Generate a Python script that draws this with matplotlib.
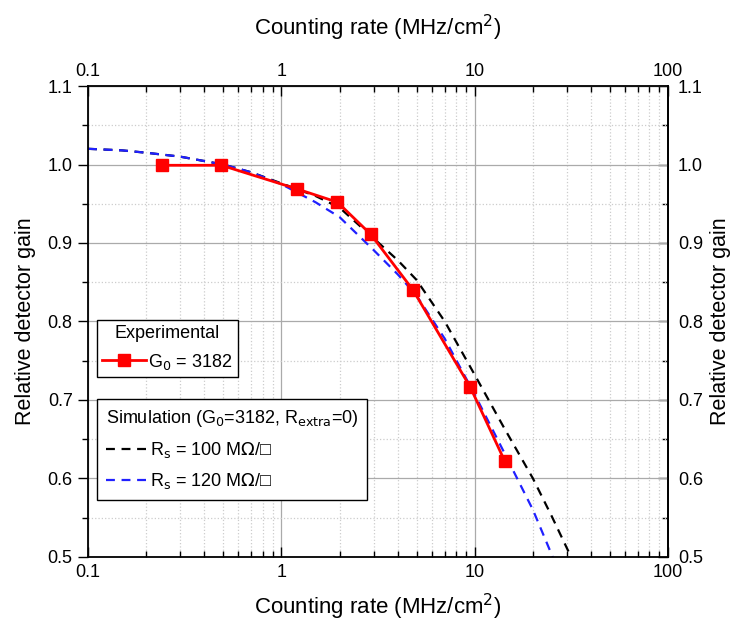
import numpy as np
import matplotlib
matplotlib.use('Agg')
import matplotlib.pyplot as plt
from matplotlib.ticker import LogLocator, FixedLocator, MultipleLocator, FuncFormatter, NullFormatter

plt.rcParams['font.family'] = ['Liberation Sans', 'DejaVu Sans']

# == DATA ==
exp_rate = [0.24, 0.49, 1.2, 1.95, 2.9, 4.8, 9.5, 14.3]
exp_gain = [0.999, 0.999, 0.969, 0.952, 0.911, 0.840, 0.716, 0.622]

sim100_rate = [0.1, 0.15, 0.2, 0.3, 0.5, 0.7, 1, 1.5, 2, 3, 4, 5, 7, 10, 14, 20, 25, 31.5]
sim100_gain = [1.020, 1.018, 1.015, 1.010, 1.000, 0.990, 0.976, 0.960, 0.945, 0.906,
               0.878, 0.853, 0.800, 0.732, 0.667, 0.600, 0.552, 0.500]

sim120_rate = [0.1, 0.15, 0.2, 0.3, 0.5, 0.7, 1, 1.5, 2, 3, 4, 5, 7, 10, 14, 20, 25.3]
sim120_gain = [1.020, 1.018, 1.015, 1.010, 1.000, 0.990, 0.975, 0.952, 0.933, 0.891,
               0.860, 0.833, 0.778, 0.707, 0.636, 0.560, 0.500]

xticks = [0.1, 1, 10, 100]
yticks = [0.5, 0.6, 0.7, 0.8, 0.9, 1.0, 1.1]

TICK_FS = 13
LABEL_FS = 16
YLABEL_FS = 15.5
LEG_FS = 13

# == FIGURE ==
fig = plt.figure(figsize=(7.35, 6.31), dpi=100)
ax = fig.add_axes([0.1197, 0.1173, 0.7893, 0.7464])

ax.set_xscale('log')
ax.set_xlim(0.1, 100)
ax.set_ylim(0.5, 1.1)

ax.grid(which='major', color='#aaaaaa', linestyle='-', linewidth=0.9)
ax.grid(which='minor', color='#cccccc', linestyle=':', linewidth=0.9)
ax.set_axisbelow(True)

l100, = ax.plot(sim100_rate, sim100_gain, linestyle=(0, (4, 3)), color='black', lw=1.6,
                label=r'R$_\mathrm{s}$ = 100 M$\Omega$/□')
l120, = ax.plot(sim120_rate, sim120_gain, linestyle=(0, (4, 3)), color='#2020ff', lw=1.6,
                label=r'R$_\mathrm{s}$ = 120 M$\Omega$/□')
lexp, = ax.plot(exp_rate, exp_gain, '-s', color='red', lw=2, ms=8,
                label=r'G$_0$ = 3182')

fmt = FuncFormatter(lambda v, p: ('%g' % v))
yfmt = FuncFormatter(lambda v, p: '%.1f' % v)
ax.xaxis.set_major_locator(FixedLocator(xticks))
ax.xaxis.set_minor_locator(LogLocator(base=10, subs=np.arange(2, 10)))
ax.xaxis.set_major_formatter(fmt)
ax.xaxis.set_minor_formatter(NullFormatter())
ax.yaxis.set_major_locator(FixedLocator(yticks))
ax.yaxis.set_minor_locator(MultipleLocator(0.05))
ax.yaxis.set_major_formatter(yfmt)

ax.tick_params(axis='x', which='both', direction='in', top=True, bottom=True,
               labelsize=TICK_FS, pad=5)
ax.tick_params(axis='y', which='both', direction='out', left=True, right=False,
               labelsize=TICK_FS, pad=4)
ax.tick_params(which='major', length=7, width=1)
ax.tick_params(which='minor', length=4, width=1)
for s in ax.spines.values():
    s.set_linewidth(1.3)

ax.set_xlabel(r'Counting rate (MHz/cm$^2$)', fontsize=LABEL_FS, labelpad=8)
ax.set_ylabel('Relative detector gain', fontsize=YLABEL_FS, labelpad=8)

top = ax.secondary_xaxis('top')
top.set_xticks(xticks)
top.xaxis.set_major_formatter(fmt)
top.xaxis.set_minor_formatter(NullFormatter())
top.tick_params(which='both', length=0, labelsize=TICK_FS, pad=4)
top.set_xlabel(r'Counting rate (MHz/cm$^2$)', fontsize=LABEL_FS, labelpad=20)

right = ax.secondary_yaxis('right')
right.set_yticks(yticks)
right.yaxis.set_minor_locator(MultipleLocator(0.05))
right.yaxis.set_major_formatter(yfmt)
right.tick_params(which='both', direction='in', labelsize=TICK_FS, pad=7)
right.tick_params(which='major', length=7, width=1)
right.tick_params(which='minor', length=4, width=1)
right.spines['right'].set_linewidth(1.3)
right.set_ylabel('Relative detector gain', fontsize=YLABEL_FS, labelpad=5)

leg1 = ax.legend(handles=[lexp], title='Experimental', loc='upper left',
                 bbox_to_anchor=(0.0155, 0.503), borderaxespad=0, fontsize=LEG_FS,
                 title_fontsize=LEG_FS, fancybox=False, edgecolor='black', framealpha=1,
                 handlelength=2.4, handletextpad=0.15, borderpad=0.3)
leg1.get_frame().set_linewidth(1)
ax.add_artist(leg1)
leg2 = ax.legend(handles=[l100, l120], title=r'Simulation (G$_0$=3182, R$_\mathrm{extra}$=0)',
                 loc='upper left', bbox_to_anchor=(0.0155, 0.335), borderaxespad=0,
                 fontsize=LEG_FS, title_fontsize=LEG_FS, fancybox=False, edgecolor='black',
                 framealpha=1, handlelength=2.3, handletextpad=0.15, borderpad=0.5,
                 labelspacing=0.6)
leg2.get_frame().set_linewidth(1)
leg2._legend_box.align = 'left'

fig.savefig('out.png', dpi=100)
